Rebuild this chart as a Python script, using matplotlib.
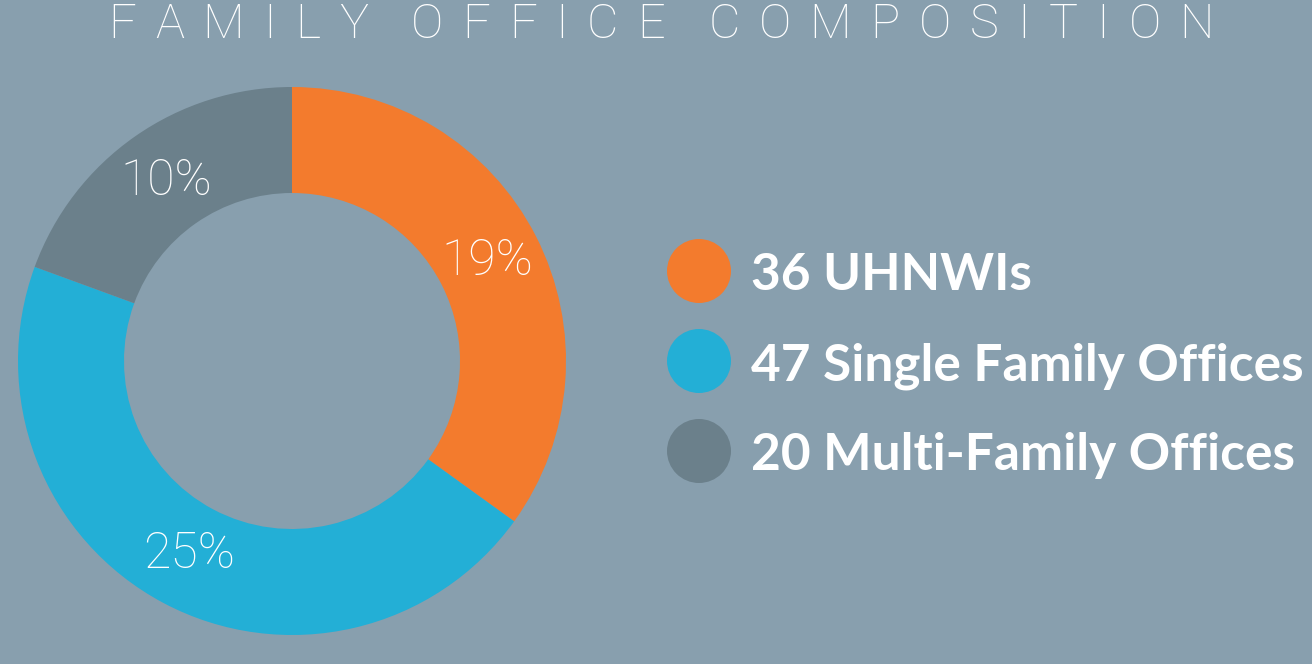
import numpy as np
import matplotlib.pyplot as plt
from matplotlib.patches import Circle

# data
categories = ['UHNWIs', 'Single Family Offices', 'Multi-Family Offices']
counts = [36, 47, 20]
pct_labels = ['19%', '25%', '10%']
colors = ['#F37B2D', '#23AFD6', '#6B808B']
title = 'FAMILY OFFICE COMPOSITION'
bg = '#889FAE'

W, H = 1312, 664
fig = plt.figure(figsize=(W / 100, H / 100), dpi=100, facecolor=bg)
ax = fig.add_axes([0, 0, 1, 1])

# donut
cx, cy, R = 292, H - 361, 274
wedges, _ = ax.pie(counts, colors=colors, startangle=90, counterclock=False,
                   center=(cx, cy), radius=R, frame=True,
                   wedgeprops=dict(width=106, linewidth=0))
ax.set_xlim(0, W)
ax.set_ylim(0, H)
ax.set_aspect('equal')
ax.axis('off')

for w, lab in zip(wedges, pct_labels):
    ang = np.deg2rad((w.theta1 + w.theta2) / 2)
    r = 219
    ax.text(cx + r * np.cos(ang), cy + r * np.sin(ang), lab,
            ha='center', va='center', color='white', fontsize=36,
            family='Roboto', fontweight='light')

# legend
for i, (cat, n, c) in enumerate(zip(categories, counts, colors)):
    y = H - (271 + 90 * i)
    ax.add_patch(Circle((699, y), 32, color=c, lw=0))
    ax.text(751, y - 19, f'{n} {cat}', ha='left', va='baseline',
            color='white', fontsize=37, family='Lato', fontweight='bold')

# title, letter-spaced across a fixed span
fig.canvas.draw()
rend = fig.canvas.get_renderer()
tkw = dict(color='white', fontsize=35, family='Roboto', fontweight='light',
           va='baseline', ha='left')
x0, x1, extra = 108, 1214, 24
letters = [ch for ch in title if ch != ' ']
widths = {}
for ch in set(letters):
    t = ax.text(0, 0, ch, **tkw)
    widths[ch] = t.get_window_extent(rend).width
    t.remove()
n_words = title.count(' ')
track = (x1 - x0 - sum(widths[c] for c in letters) - n_words * extra) / (len(letters) - 1)
x = x0
for ch in title:
    if ch == ' ':
        x += extra
        continue
    ax.text(x, H - 38, ch, **tkw)
    x += widths[ch] + track

fig.savefig('out.png', dpi=100, facecolor=bg)
